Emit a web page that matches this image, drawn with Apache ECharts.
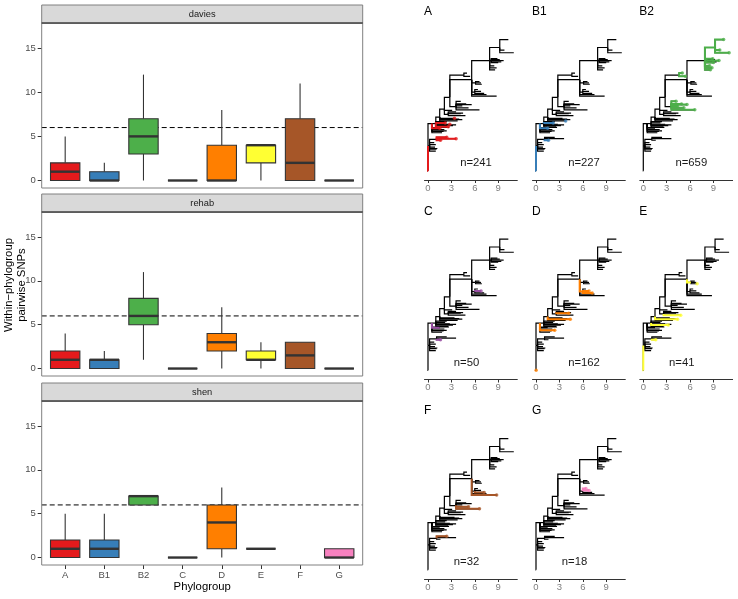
<!DOCTYPE html>
<html>
<head>
<meta charset="utf-8">
<script src="https://cdn.jsdelivr.net/npm/echarts@6/dist/echarts.min.js"></script>
<style>
  html, body { margin: 0; padding: 0; background: #fff; }
  #main { width: 738px; height: 599px; }
</style>
</head>
<body>
<div id="main"></div>
<script>
// ---- data ----
const groups = ['A', 'B1', 'B2', 'C', 'D', 'E', 'F', 'G'];
const groupColors = ['#E41A1C', '#377EB8', '#4DAF4A', '#984EA3', '#FF7F00', '#FFFF33', '#A65628', '#F781BF'];
const studies = ['davies', 'rehab', 'shen'];
// min, q1, median, q3, max per phylogroup (null = no pairs)
const daviesStats = [[0, 0, 1, 2, 5], [0, 0, 0, 1, 2], [0, 3, 5, 7, 12], [0, 0, 0, 0, 0],
                     [0, 0, 0, 4, 8], [0, 2, 4, 4, 4], [0, 0, 2, 7, 11], [0, 0, 0, 0, 0]];
const rehabStats = [[0, 0, 1, 2, 4], [0, 0, 1, 1, 2], [1, 5, 6, 8, 11], [0, 0, 0, 0, 0],
                    [0, 2, 3, 4, 7], [0, 1, 1, 2, 3], [0, 0, 1.5, 3, 3], [0, 0, 0, 0, 0]];
const shenStats = [[0, 0, 1, 2, 5], [0, 0, 1, 2, 5], [6, 6, 7, 7, 7], [0, 0, 0, 0, 0],
                   [0, 1, 4, 6, 8], [1, 1, 1, 1, 1], null, [0, 0, 0, 1, 1]];
const snpThreshold = 6;
const yTicks = [0, 5, 10, 15];

// tree: parent index, distance from root (SNPs), tip order
const treeParent = [-1, 0, 0, 2, 2, 2, 2, 2, 2, 8, 8, 8, 0, 12, 12, 12, 12, 12, 17, 17,
                    17, 17, 17, 22, 22, 22, 22, 26, 27, 27, 27, 26, 31, 32, 32, 32, 32, 32, 31, 38,
                    38, 31, 41, 41, 43, 43, 43, 41, 47, 47, 41, 50, 50, 50, 50, 54, 54, 54, 50, 58,
                    58, 58, 12, 12, 17, 17, 22, 27, 54, 54, 41, 2, 26, 32, 47];
const treeX = [0, 0.02, 0.2, 1.0, 1.1, 0.9, 1.0, 0.8, 1.1, 3.6, 1.6, 2.4, 0.5, 1.8, 2.4, 2.1, 1.5, 1.0, 2.6, 3.2,
               2.8, 2.2, 1.5, 3.8, 4.4, 3.4, 2.1, 2.6, 4.8, 4.2, 3.6, 2.8, 3.6, 6.6, 5.2, 4.4, 4.9, 4.2, 4.6, 5.4,
               5.0, 5.6, 8.8, 6.0, 7.2, 6.8, 6.4, 6.1, 6.9, 6.6, 7.9, 8.6, 8.8, 8.5, 8.1, 9.0, 9.7, 8.9, 9.2, 10.3,
               11.0, 9.8, 2.0, 2.7, 3.6, 2.4, 4.0, 4.5, 9.4, 9.2, 7.5, 1.2, 3.1, 5.6, 6.8];
const treeY = [19, 0, 19, 15, 16.5, 18, 20, 21.5, 24, 24.5, 23.3, 25.5, 36, 29, 30.5, 31.5, 32.5, 36, 33.5, 34.5,
               35.5, 36.5, 41, 38, 39, 40, 47, 43, 42, 43.5, 45, 56, 49, 46.5, 48, 49.5, 51, 53, 73, 72,
               74.5, 69.5, 57, 60, 59, 60.5, 62, 67, 66, 68, 84, 77, 78.5, 80, 84, 82.5, 84, 85.5, 94, 100,
               90, 92, 30, 33, 35, 37.5, 39.5, 44, 83, 84.8, 58, 17, 46, 50.5, 67];
const treeCounts = [241, 227, 659, 50, 162, 41, 32, 18];
const treeHighlightEdges = [
  [1, 9, 10, 11, 16, 18, 21],
  [1, 10, 16, 21],
  [33, 34, 35, 36, 37, 39, 40, 51, 52, 53, 54, 55, 56, 57, 58, 59, 60, 61, 73],
  [10, 16, 45],
  [43, 44, 45, 24, 29, 14],
  [1, 10, 19, 24, 28, 47],
  [11, 33, 34, 42, 44],
  [45, 46]
];
const treeHighlightTips = [
  [9, 10, 11, 16, 18, 20, 21, 25],
  [10, 16, 21, 23],
  [33, 34, 35, 36, 37, 39, 40, 51, 52, 53, 55, 56, 57, 59, 60, 61, 73],
  [10, 45],
  [1, 14, 24, 29, 44, 45],
  [10, 19, 24, 28, 48],
  [11, 33, 34, 42, 44],
  [45, 46]
];
const treeTicks = [0, 3, 6, 9];

// ---- layout ----
const font = "'Liberation Sans', Arial, Helvetica, sans-serif";
const boxLeft = 41.7, boxWidth = 321;
const boxPanels = [
  { strip: 5, top: 23, bottom: 188 },
  { strip: 194, top: 212, bottom: 376 },
  { strip: 383, top: 401, bottom: 565 }
];
const colX0 = [428, 536, 643.3];
const rowAxisY = [180, 379.5, 579];
const pxPerSnp = 7.8;

const chart = echarts.init(document.getElementById('main'), null, { renderer: 'canvas' });

const grid = [], xAxis = [], yAxis = [], series = [], graphic = [];

function boxRender(params, api) {
  const x = api.value(0);
  const w = api.size([0.75, 0])[0];
  const pMin = api.coord([x, api.value(1)]);
  const pQ1 = api.coord([x, api.value(2)]);
  const pMed = api.coord([x, api.value(3)]);
  const pQ3 = api.coord([x, api.value(4)]);
  const pMax = api.coord([x, api.value(5)]);
  const color = groupColors[api.value(6)];
  const edge = '#333333';
  return {
    type: 'group',
    children: [
      { type: 'line', shape: { x1: pMax[0], y1: pMax[1], x2: pQ3[0], y2: pQ3[1] }, style: { stroke: edge, lineWidth: 1.1 } },
      { type: 'line', shape: { x1: pQ1[0], y1: pQ1[1], x2: pMin[0], y2: pMin[1] }, style: { stroke: edge, lineWidth: 1.1 } },
      { type: 'rect', shape: { x: pQ3[0] - w / 2, y: pQ3[1], width: w, height: pQ1[1] - pQ3[1] },
        style: { fill: color, stroke: edge, lineWidth: 1.1 } },
      { type: 'line', shape: { x1: pMed[0] - w / 2, y1: pMed[1], x2: pMed[0] + w / 2, y2: pMed[1] },
        style: { stroke: edge, lineWidth: 2.4 } }
    ]
  };
}

const allStats = [daviesStats, rehabStats, shenStats];
boxPanels.forEach((p, i) => {
  grid.push({ left: boxLeft, top: p.top, width: boxWidth, height: p.bottom - p.top });
  const last = i === boxPanels.length - 1;
  xAxis.push({
    gridIndex: i, type: 'value', min: 0.4, max: 8.6,
    axisLine: { show: false, onZero: false }, splitLine: { show: false },
    axisTick: { show: last, customValues: [1, 2, 3, 4, 5, 6, 7, 8], length: 4, lineStyle: { color: '#333', width: 1 } },
    axisLabel: { show: last, customValues: [1, 2, 3, 4, 5, 6, 7, 8], formatter: v => groups[v - 1],
                 margin: 5, fontSize: 9.5, color: '#4d4d4d', fontFamily: font }
  });
  yAxis.push({
    gridIndex: i, type: 'value', min: -0.85, max: 17.85,
    axisLine: { show: false, onZero: false }, splitLine: { show: false },
    axisTick: { show: true, customValues: yTicks, length: 4, lineStyle: { color: '#333', width: 1 } },
    axisLabel: { customValues: yTicks, margin: 6, fontSize: 9.5, color: '#4d4d4d', fontFamily: font }
  });
  series.push({
    type: 'line', xAxisIndex: i, yAxisIndex: i, silent: true, z: 1,
    data: [[0.4, snpThreshold], [8.6, snpThreshold]], symbol: 'none',
    lineStyle: { color: '#000', width: 1, type: [5, 3] }
  });
  const data = [];
  allStats[i].forEach((s, k) => { if (s) data.push([k + 1, ...s, k]); });
  series.push({
    type: 'custom', xAxisIndex: i, yAxisIndex: i, z: 3, silent: true,
    renderItem: boxRender, data: data
  });
  // panel border + strip
  graphic.push({ type: 'rect', z: 10, shape: { x: boxLeft, y: p.top, width: boxWidth, height: p.bottom - p.top },
                 style: { fill: 'none', stroke: '#808080', lineWidth: 1 } });
  graphic.push({ type: 'rect', z: 10, shape: { x: boxLeft, y: p.strip, width: boxWidth, height: p.top - p.strip },
                 style: { fill: '#d9d9d9', stroke: '#808080', lineWidth: 1 } });
  graphic.push({ type: 'line', z: 11, shape: { x1: boxLeft, y1: p.top, x2: boxLeft + boxWidth, y2: p.top },
                 style: { stroke: '#1a1a1a', lineWidth: 1 } });
  graphic.push({ type: 'text', z: 12, x: boxLeft + boxWidth / 2, y: (p.strip + p.top) / 2,
                 style: { text: studies[i], fontSize: 9.3, fill: '#1a1a1a', fontFamily: font,
                          align: 'center', verticalAlign: 'middle' } });
});

graphic.push({ type: 'text', x: 15, y: 285, rotation: Math.PI / 2,
               style: { text: 'Within\u2212phylogroup\npairwise SNPs', fontSize: 11.3, lineHeight: 13, fill: '#000',
                        fontFamily: font, align: 'center', verticalAlign: 'middle' } });
graphic.push({ type: 'text', x: boxLeft + boxWidth / 2, y: 587,
               style: { text: 'Phylogroup', fontSize: 11.3, fill: '#000', fontFamily: font,
                        align: 'center', verticalAlign: 'middle' } });

// tree edges (elbow from parent to child)
const treeEdges = [];
for (let i = 0; i < treeParent.length; i++) {
  const par = treeParent[i];
  if (par >= 0) treeEdges[i] = [treeX[par], treeY[par], treeX[i], treeY[i]];
}
function edgeRender(width, color) {
  return function (params, api) {
    const a = api.coord([api.value(0), api.value(1)]);
    const b = api.coord([api.value(0), api.value(3)]);
    const c = api.coord([api.value(2), api.value(3)]);
    return { type: 'polyline', shape: { points: [a, b, c] },
             style: { stroke: color, lineWidth: width, fill: 'none' } };
  };
}

groups.forEach((g, p) => {
  const gi = 3 + p;
  const col = p % 3, row = Math.floor(p / 3);
  const x0 = colX0[col], axisY = rowAxisY[row];
  grid.push({ left: x0 - 0.45 * pxPerSnp, width: 11.9 * pxPerSnp, top: axisY - 143, height: 143 });
  xAxis.push({
    gridIndex: gi, type: 'value', min: -0.45, max: 11.45,
    axisLine: { show: true, onZero: false, lineStyle: { color: '#333', width: 1 } },
    splitLine: { show: false },
    axisTick: { show: true, customValues: treeTicks, length: 3, lineStyle: { color: '#333' } },
    axisLabel: { customValues: treeTicks, margin: 3, fontSize: 9.5, color: '#7f7f7f', fontFamily: font }
  });
  yAxis.push({ gridIndex: gi, type: 'value', min: -7, max: 102, show: false, axisLine: { onZero: false } });

  series.push({
    type: 'custom', xAxisIndex: gi, yAxisIndex: gi, silent: true, z: 2,
    renderItem: edgeRender(1.2, '#000'), data: treeEdges.filter(Boolean)
  });
  series.push({
    type: 'custom', xAxisIndex: gi, yAxisIndex: gi, silent: true, z: 3,
    renderItem: edgeRender(2, groupColors[p]),
    data: treeHighlightEdges[p].map(i => treeEdges[i])
  });
  series.push({
    type: 'scatter', xAxisIndex: gi, yAxisIndex: gi, silent: true, z: 4,
    symbolSize: 3.5, itemStyle: { color: groupColors[p] },
    data: treeHighlightTips[p].map(i => [treeX[i], treeY[i]])
  });

  const label = 'n=' + treeCounts[p];
  graphic.push({ type: 'text', x: x0 + 38.5 + (label.length - 4) * 9.5, y: axisY - 17,
                 style: { text: label, fontSize: 11.3, fill: '#1a1a1a', fontFamily: font,
                          align: 'center', verticalAlign: 'middle' } });
  graphic.push({ type: 'text', x: x0 - 4, y: axisY - 168,
                 style: { text: g, fontSize: 12, fill: '#000', fontFamily: font,
                          align: 'left', verticalAlign: 'middle' } });
});

chart.setOption({
  animation: false,
  backgroundColor: '#fff',
  textStyle: { fontFamily: font },
  grid: grid,
  xAxis: xAxis,
  yAxis: yAxis,
  series: series,
  graphic: graphic
});
</script>
</body>
</html>
